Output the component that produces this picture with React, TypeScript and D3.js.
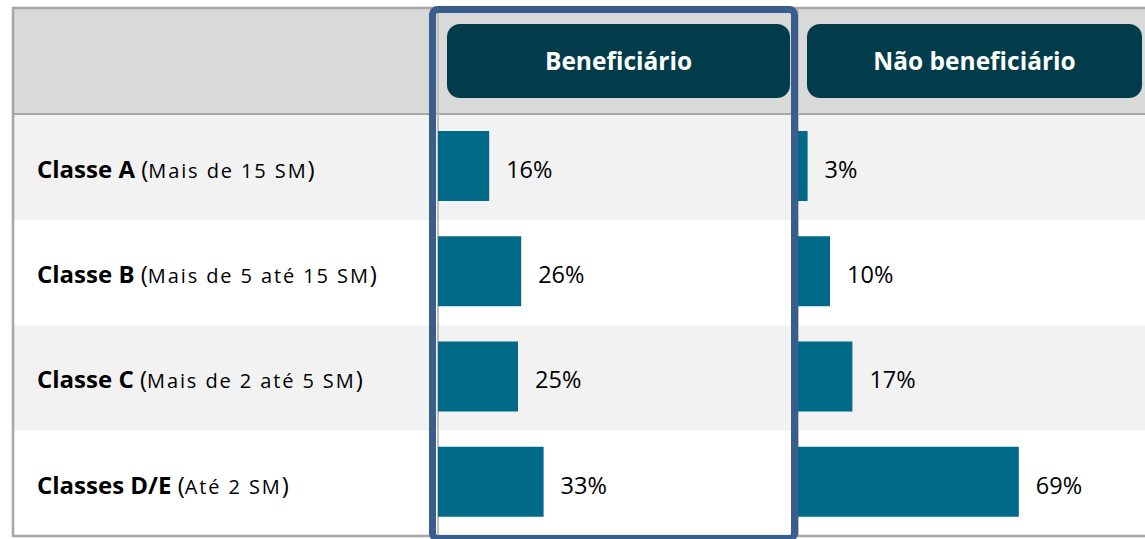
import React from 'react';
import * as d3 from 'd3';

const categories = ['Classe A', 'Classe B', 'Classe C', 'Classes D/E'];
const incomeRanges = ['Mais de 15 SM', 'Mais de 5 até 15 SM', 'Mais de 2 até 5 SM', 'Até 2 SM'];
const groups = ['Beneficiário', 'Não beneficiário'];
const beneficiario = [16, 26, 25, 33];
const naoBeneficiario = [3, 10, 17, 69];

const W = 1145;
const H = 539;
const FONT = '"Open Sans", "Noto Sans", sans-serif';

export default function App() {
  const series = [beneficiario, naoBeneficiario];

  // rows
  const y = d3.scaleBand<string>().domain(categories).range([115, 536]);
  // column origins for each group
  const colX = d3.scaleOrdinal<string, number>().domain(groups).range([438, 798]);
  const x = d3.scaleLinear().domain([0, 100]).range([0, 320]);

  const barTop = y.bandwidth() * 0.152;
  const barH = y.bandwidth() * 0.665;

  const pills = [
    { x0: 447, x1: 790 },
    { x0: 807, x1: 1142 },
  ];

  return (
    <div style={{ position: 'absolute', left: 0, top: 0 }}>
      <svg width={W} height={H} style={{ display: 'block', fontFamily: FONT }}>
        <rect x={0} y={0} width={W} height={H} fill="#fff" />
        {/* header band */}
        <rect x={13} y={8} width={W} height={106} fill="#d9d9d9" />
        {/* row stripes */}
        {categories.map((c, i) => (
          <rect key={c} x={13} y={y(c)} width={W} height={y.bandwidth()} fill={i % 2 === 0 ? '#f2f2f2' : '#ffffff'} />
        ))}
        {/* header separator */}
        <line x1={13} x2={W} y1={114} y2={114} stroke="#a6a6a6" strokeWidth={2} />
        {/* column baselines */}
        {groups.map((g) => (
          <line key={g} x1={colX(g)} x2={colX(g)} y1={9} y2={536} stroke="#bfbfbf" strokeWidth={2} />
        ))}
        {/* outer border */}
        <rect x={13} y={8} width={W + 10} height={528} fill="none" stroke="#a6a6a6" strokeWidth={2.5} />

        {/* header pills */}
        {groups.map((g, gi) => (
          <g key={g}>
            <rect x={pills[gi].x0} y={24} width={pills[gi].x1 - pills[gi].x0} height={74} rx={13} fill="#023c4a" />
            <text
              x={(pills[gi].x0 + pills[gi].x1) / 2}
              y={70}
              textAnchor="middle"
              fill="#ffffff"
              fontWeight={700}
              fontSize={24.5}
            >
              {g}
            </text>
          </g>
        ))}

        {/* row labels */}
        {categories.map((c, i) => (
          <text key={c} x={37} y={(y(c) as number) + barTop + barH / 2 + 12} fill="#000" fontSize={24}>
            <tspan fontWeight={700}>{c}</tspan>
            <tspan> (</tspan>
            <tspan fontSize={20} letterSpacing={1.9}>{incomeRanges[i]}</tspan>
            <tspan>)</tspan>
          </text>
        ))}

        {/* bars and values */}
        {groups.map((g, gi) =>
          series[gi].map((v, i) => {
            const x0 = colX(g) as number;
            const yy = (y(categories[i]) as number) + barTop;
            return (
              <g key={g + i}>
                <rect x={x0} y={yy} width={x(v)} height={barH} fill="#006a88" />
                <text x={x0 + x(v) + 17} y={yy + barH / 2 + 12} fontSize={23.5} fill="#000">
                  {v}%
                </text>
              </g>
            );
          })
        )}

        {/* highlight frame around Beneficiário column */}
        <rect x={432.5} y={9.5} width={362} height={529} rx={5} fill="none" stroke="#3a5e8c" strokeWidth={7} />
      </svg>
    </div>
  );
}
